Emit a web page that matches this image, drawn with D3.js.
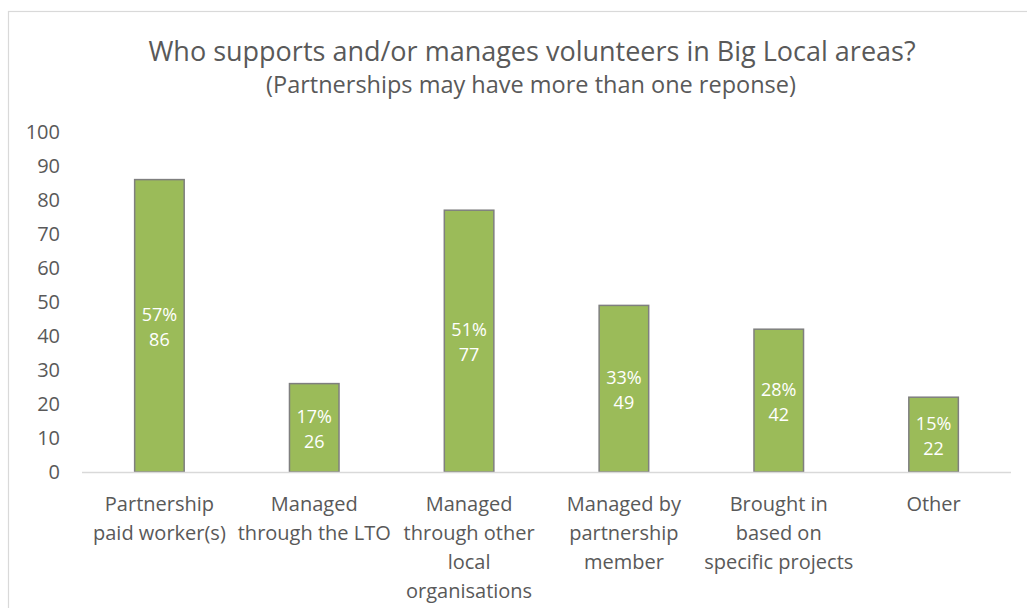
<!DOCTYPE html>
<html lang="en">
<head>
<meta charset="UTF-8">
<title>Volunteers chart</title>
<script src="https://cdn.jsdelivr.net/npm/d3@7"></script>
<style>
  * { margin: 0; padding: 0; }
  body { background: #fff; }
  text { font-family: "Open Sans", sans-serif; fill: #595959; }
</style>
</head>
<body>
<div id="chart"></div>
<script>
  // data
  const categories = [
    ['Partnership', 'paid worker(s)'],
    ['Managed', 'through the LTO'],
    ['Managed', 'through other', 'local', 'organisations'],
    ['Managed by', 'partnership', 'member'],
    ['Brought in', 'based on', 'specific projects'],
    ['Other']
  ];
  const counts = [86, 26, 77, 49, 42, 22];
  const percents = ['57%', '17%', '51%', '33%', '28%', '15%'];
  const yTicks = [0, 10, 20, 30, 40, 50, 60, 70, 80, 90, 100];

  const width = 1027, height = 608;
  const margin = { top: 132, right: 16, bottom: 136, left: 82 };

  const svg = d3.select('#chart').append('svg')
    .attr('width', width)
    .attr('height', height);

  // chart frame (only top and left edges show)
  svg.append('rect')
    .attr('x', 8.5).attr('y', 11.5)
    .attr('width', width + 20).attr('height', height + 20)
    .attr('fill', 'none')
    .attr('stroke', '#d9d9d9')
    .attr('stroke-width', 1.2);

  svg.append('text')
    .attr('x', 532).attr('y', 61)
    .attr('text-anchor', 'middle')
    .attr('font-size', 27)
    .text('Who supports and/or manages volunteers in Big Local areas?');

  svg.append('text')
    .attr('x', 531).attr('y', 93)
    .attr('text-anchor', 'middle')
    .attr('font-size', 23.5)
    .text('(Partnerships may have more than one reponse)');

  const x = d3.scaleBand()
    .domain(d3.range(categories.length))
    .range([margin.left, width - margin.right])
    .paddingInner(0.68)
    .paddingOuter(0.34);

  const y = d3.scaleLinear()
    .domain([0, 100])
    .range([height - margin.bottom, margin.top]);

  // y axis, labels only
  const yAxisG = svg.append('g')
    .attr('transform', `translate(${margin.left - 22},0)`)
    .call(d3.axisLeft(y).tickValues(yTicks).tickSize(0).tickPadding(0));
  yAxisG.select('.domain').remove();
  yAxisG.selectAll('text')
    .attr('font-size', 20)
    .attr('font-family', '"Open Sans", sans-serif')
    .attr('fill', '#595959');

  // bars
  const bars = svg.selectAll('.bar')
    .data(counts)
    .enter()
    .append('g');

  bars.append('rect')
    .attr('x', (d, i) => x(i))
    .attr('y', d => y(d))
    .attr('width', x.bandwidth())
    .attr('height', d => y(0) - y(d))
    .attr('fill', '#9bbb59')
    .attr('stroke', '#7f7f7f')
    .attr('stroke-width', 1.5);

  bars.append('text')
    .attr('x', (d, i) => x(i) + x.bandwidth() / 2)
    .attr('y', d => (y(d) + y(0)) / 2 - 5)
    .attr('text-anchor', 'middle')
    .attr('font-size', 18)
    .style('fill', '#fff')
    .text((d, i) => percents[i]);

  bars.append('text')
    .attr('x', (d, i) => x(i) + x.bandwidth() / 2)
    .attr('y', d => (y(d) + y(0)) / 2 + 20)
    .attr('text-anchor', 'middle')
    .attr('font-size', 18)
    .style('fill', '#fff')
    .text(d => d);

  // baseline
  svg.append('line')
    .attr('x1', margin.left).attr('x2', width - margin.right)
    .attr('y1', y(0) + 0.5).attr('y2', y(0) + 0.5)
    .attr('stroke', '#d9d9d9')
    .attr('stroke-width', 1.5);

  // category labels
  const xAxisG = svg.append('g');
  categories.forEach((lines, i) => {
    const t = xAxisG.append('text')
      .attr('x', x(i) + x.bandwidth() / 2)
      .attr('y', y(0) + 39)
      .attr('text-anchor', 'middle')
      .attr('font-size', 20);
    lines.forEach((s, j) => {
      t.append('tspan')
        .attr('x', x(i) + x.bandwidth() / 2)
        .attr('dy', j === 0 ? 0 : 29)
        .text(s);
    });
  });
</script>
</body>
</html>
